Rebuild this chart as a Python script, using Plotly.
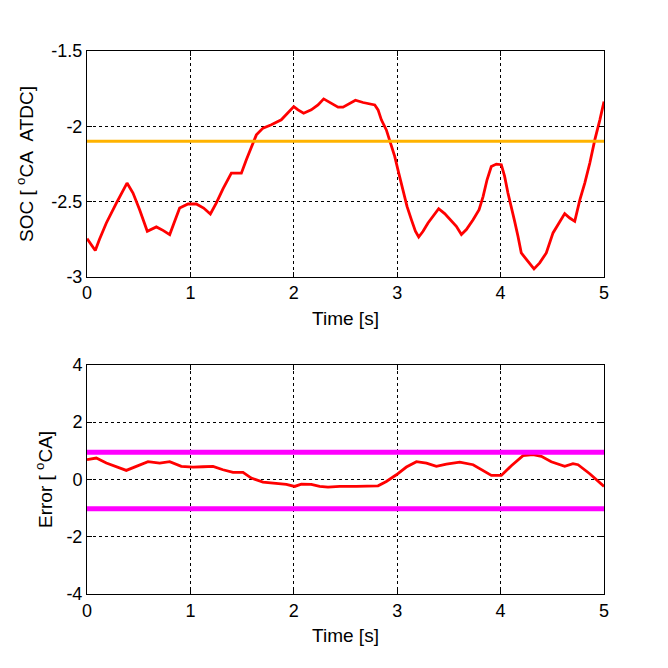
import plotly.graph_objects as go
from plotly.subplots import make_subplots

soc_t = [0, 0.08, 0.12, 0.187, 0.284, 0.332, 0.387, 0.445, 0.509, 0.583, 0.671, 0.735, 0.80, 0.848, 0.896,
         0.977, 1.057, 1.128, 1.193, 1.25, 1.315, 1.396, 1.493, 1.541, 1.589, 1.638, 1.702, 1.783, 1.879,
         1.944, 2.0, 2.041, 2.095, 2.169, 2.234, 2.289, 2.347, 2.428, 2.476, 2.54, 2.596, 2.67, 2.783,
         2.815, 2.847, 2.895, 2.934, 2.976, 3.015, 3.056, 3.095, 3.137, 3.176, 3.208, 3.25, 3.298, 3.346,
         3.401, 3.459, 3.524, 3.572, 3.621, 3.669, 3.734, 3.792, 3.831, 3.869, 3.91, 3.959, 4.007, 4.039,
         4.071, 4.104, 4.136, 4.168, 4.2, 4.255, 4.323, 4.378, 4.442, 4.507, 4.571, 4.62, 4.669, 4.717,
         4.767, 4.814, 4.863, 4.911, 4.96, 5.0]
soc_v = [-2.746, -2.825, -2.752, -2.642, -2.51, -2.443, -2.377, -2.443, -2.554, -2.697, -2.668, -2.691,
         -2.719, -2.631, -2.543, -2.516, -2.516, -2.543, -2.582, -2.51, -2.415, -2.311, -2.311, -2.222,
         -2.134, -2.057, -2.012, -1.99, -1.957, -1.913, -1.869, -1.891, -1.913, -1.891, -1.858, -1.818,
         -1.84, -1.873, -1.873, -1.851, -1.827, -1.842, -1.858, -1.891, -1.957, -2.024, -2.112, -2.2,
         -2.311, -2.421, -2.532, -2.62, -2.697, -2.735, -2.697, -2.642, -2.598, -2.547, -2.58, -2.631,
         -2.664, -2.719, -2.686, -2.62, -2.554, -2.465, -2.355, -2.267, -2.251, -2.255, -2.333, -2.443,
         -2.532, -2.631, -2.73, -2.841, -2.889, -2.947, -2.907, -2.841, -2.708, -2.638, -2.58, -2.609,
         -2.631, -2.487, -2.377, -2.244, -2.09, -1.957, -1.836]
soc_target = -2.1

err_t = [0, 0.09, 0.187, 0.284, 0.38, 0.477, 0.59, 0.703, 0.8, 0.912, 1.025, 1.122, 1.219, 1.315, 1.412,
         1.509, 1.589, 1.702, 1.831, 1.928, 2.008, 2.073, 2.169, 2.25, 2.331, 2.444, 2.605, 2.815, 2.895,
         2.992, 3.089, 3.186, 3.283, 3.379, 3.476, 3.605, 3.734, 3.846, 3.911, 4.007, 4.104, 4.217, 4.313,
         4.394, 4.49, 4.62, 4.7, 4.749, 4.862, 5.0]
err_v = [0.688, 0.746, 0.571, 0.432, 0.315, 0.455, 0.618, 0.571, 0.618, 0.455, 0.432, 0.443, 0.455, 0.338,
         0.245, 0.245, 0.047, -0.093, -0.128, -0.175, -0.245, -0.163, -0.175, -0.245, -0.268, -0.245,
         -0.245, -0.222, -0.07, 0.163, 0.432, 0.618, 0.571, 0.455, 0.536, 0.606, 0.513, 0.28, 0.14, 0.14,
         0.478, 0.828, 0.863, 0.805, 0.618, 0.455, 0.548, 0.513, 0.198, -0.245]
err_upper = 0.95
err_lower = -1.02

x_ticks = [0, 1, 2, 3, 4, 5]
soc_ticks = [-3, -2.5, -2, -1.5]
err_ticks = [-4, -2, 0, 2, 4]

fig = make_subplots(rows=2, cols=1, vertical_spacing=0.162)
fig.update_layout(
    yaxis=dict(domain=[0.584, 1.0]),
    yaxis2=dict(domain=[0.0, 0.422]),
)

fig.add_trace(go.Scatter(x=soc_t, y=soc_v, mode="lines", line=dict(color="#FF0000", width=2.8)), row=1, col=1)
fig.add_trace(go.Scatter(x=[0, 5], y=[soc_target, soc_target], mode="lines",
                         line=dict(color="#FFB300", width=3)), row=1, col=1)

fig.add_trace(go.Scatter(x=err_t, y=err_v, mode="lines", line=dict(color="#FF0000", width=2.8)), row=2, col=1)
fig.add_trace(go.Scatter(x=[0, 5], y=[err_upper, err_upper], mode="lines",
                         line=dict(color="#FF00FF", width=5)), row=2, col=1)
fig.add_trace(go.Scatter(x=[0, 5], y=[err_lower, err_lower], mode="lines",
                         line=dict(color="#FF00FF", width=5)), row=2, col=1)

tick_font = dict(family="Liberation Sans, Arial, sans-serif", size=18, color="black")
title_font = dict(family="Liberation Sans, Arial, sans-serif", size=19, color="black")
axis_common = dict(showline=True, linecolor="black", linewidth=1, mirror="ticks", ticks="inside",
                   ticklen=5, tickcolor="black", showgrid=True, gridcolor="black", griddash="3px,3px",
                   gridwidth=1, zeroline=False, tickfont=tick_font, title_font=title_font, automargin=False)

for r in (1, 2):
    fig.update_xaxes(range=[0, 5], tickvals=x_ticks, ticktext=[str(v) for v in x_ticks],
                     title_text="Time [s]", title_standoff=9, ticklabelstandoff=0, row=r, col=1, **axis_common)

fig.update_yaxes(range=[-3, -1.5], tickvals=soc_ticks, ticktext=["-3", "-2.5", "-2", "-1.5"],
                 title_text="SOC [ <sup>o</sup>CA\u00a0 ATDC]", title_standoff=12, row=1, col=1, **axis_common)
fig.update_yaxes(range=[-4, 4], tickvals=err_ticks, ticktext=["-4", "-2", "0", "2", "4"],
                 title_text="Error [ <sup>o</sup>CA]", title_standoff=8, row=2, col=1, **axis_common)

fig.update_layout(width=660, height=660, showlegend=False, plot_bgcolor="white", paper_bgcolor="white",
                  margin=dict(l=79, r=64, t=43, b=74), font=tick_font)

fig.write_html("out.html")
